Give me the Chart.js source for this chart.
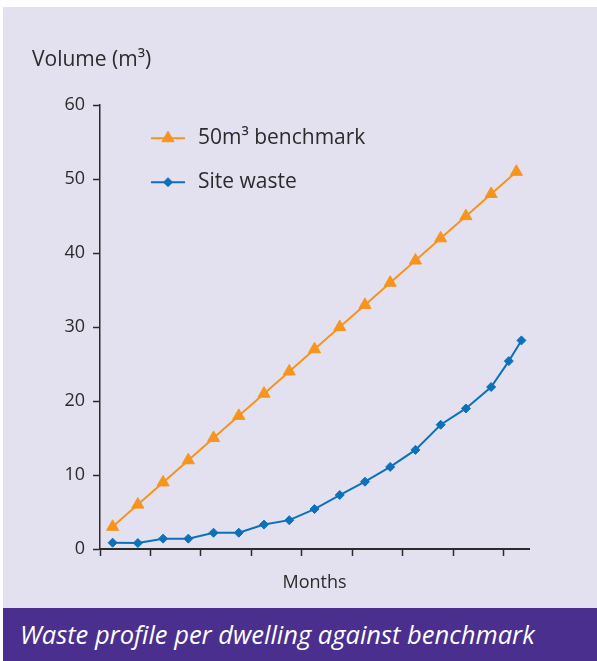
<!DOCTYPE html>
<html>
<head>
<meta charset="utf-8">
<script src="https://cdn.jsdelivr.net/npm/chart.js@4.4.0/dist/chart.umd.min.js"></script>
<style>
  body { margin: 0; background: #fff; }
  #panel { position: absolute; left: 3px; top: 7px; width: 594px; height: 601px; background: #e3e0ef; }
  #caption {
    position: absolute; left: 3px; top: 608px; width: 594px; height: 53px;
    background: #4b2f8f; color: #fff; box-sizing: border-box; padding-left: 17px;
    font: italic 25.5px "Open Sans", sans-serif; line-height: 52px; white-space: nowrap;
  }
</style>
</head>
<body>
<div id="panel"><canvas id="waste-chart" width="594" height="601"></canvas></div>
<div id="caption">Waste profile per dwelling against benchmark</div>
<script>
// months are on the x axis, two readings per month
const benchmarkMonths = [0.25, 0.75, 1.25, 1.75, 2.25, 2.75, 3.25, 3.75, 4.25, 4.75, 5.25, 5.75, 6.25, 6.75, 7.25, 7.75, 8.25];
const benchmarkVolume = [3, 6, 9, 12, 15, 18, 21, 24, 27, 30, 33, 36, 39, 42, 45, 48, 51];

const siteMonths = [0.25, 0.75, 1.25, 1.75, 2.25, 2.75, 3.25, 3.75, 4.25, 4.75, 5.25, 5.75, 6.25, 6.75, 7.25, 7.75, 8.1, 8.35];
const siteVolume = [0.85, 0.8, 1.4, 1.4, 2.2, 2.2, 3.3, 3.9, 5.4, 7.3, 9.1, 11.1, 13.4, 16.8, 19.0, 21.9, 25.4, 28.2];

const volumeTicks = [0, 10, 20, 30, 40, 50, 60];
const monthTicks = [0, 1, 2, 3, 4, 5, 6, 7, 8];

const orange = "#f7941d";
const blue = "#0b72b9";
const ink = "#2b2b2b";

Chart.defaults.font.family = "'Open Sans', sans-serif";

// legend sits inside the plot, stacked, like the original
const insideLegend = {
  id: "insideLegend",
  afterDatasetsDraw(chart) {
    const { ctx, chartArea } = chart;
    chart.data.datasets.forEach((ds, i) => {
      const y = chartArea.top + 33 + i * 44;
      const x0 = chartArea.left + 51;
      ctx.save();
      ctx.strokeStyle = ds.borderColor;
      ctx.lineWidth = 2;
      ctx.beginPath();
      ctx.moveTo(x0, y);
      ctx.lineTo(x0 + 34, y);
      ctx.stroke();
      ctx.fillStyle = ds.pointBackgroundColor;
      ctx.strokeStyle = ds.pointBorderColor;
      ctx.lineWidth = 1;
      Chart.helpers.drawPoint(ctx, { pointStyle: ds.pointStyle, radius: ds.pointRadius, borderWidth: 1, rotation: 0 }, x0 + 17, y);
      ctx.fillStyle = ink;
      ctx.font = "21px 'Open Sans', sans-serif";
      ctx.textBaseline = "middle";
      ctx.fillText(ds.label, x0 + 47, y);
      ctx.restore();
    });
  },
};

const wasteChart = new Chart(document.getElementById("waste-chart"), {
  type: "line",
  data: {
    datasets: [
      {
        label: "50m³ benchmark",
        data: benchmarkMonths.map((m, i) => ({ x: m, y: benchmarkVolume[i] })),
        borderColor: orange,
        borderWidth: 2,
        pointStyle: "triangle",
        pointRadius: 7,
        pointBackgroundColor: orange,
        pointBorderColor: orange,
        pointBorderWidth: 1,
      },
      {
        label: "Site waste",
        data: siteMonths.map((m, i) => ({ x: m, y: siteVolume[i] })),
        borderColor: blue,
        borderWidth: 2,
        pointStyle: "rectRot",
        pointRadius: 4.5,
        pointBackgroundColor: blue,
        pointBorderColor: blue,
        pointBorderWidth: 1,
      },
    ],
  },
  options: {
    responsive: false,
    animation: false,
    layout: { padding: { left: 29, right: 68, top: 0, bottom: 0 } },
    plugins: {
      legend: { display: false },
      tooltip: { enabled: false },
      title: {
        display: true,
        text: "Volume (m³)",
        align: "start",
        color: ink,
        font: { size: 21, weight: "normal" },
        padding: { top: 40, bottom: 33 },
      },
    },
    scales: {
      x: {
        type: "linear",
        min: 0,
        max: 8.5,
        afterBuildTicks: (s) => { s.ticks = monthTicks.map((v) => ({ value: v })); },
        afterFit: (s) => { s.height = 59; },
        grid: { drawOnChartArea: false, tickLength: 7, tickColor: ink, tickWidth: 1.5 },
        border: { color: ink, width: 2 },
        ticks: { display: false },
        title: { display: true, text: "Months", color: ink, font: { size: 18 }, padding: { top: 0, bottom: 14 } },
      },
      y: {
        min: 0,
        max: 60,
        afterBuildTicks: (s) => { s.ticks = volumeTicks.map((v) => ({ value: v })); },
        afterFit: (s) => { s.width = 68; },
        grid: { drawOnChartArea: false, tickLength: 7, tickColor: ink, tickWidth: 1.5 },
        border: { color: ink, width: 1.5 },
        ticks: { padding: 8, color: ink, font: { size: 18 } },
      },
    },
  },
  plugins: [insideLegend],
});
</script>
</body>
</html>
